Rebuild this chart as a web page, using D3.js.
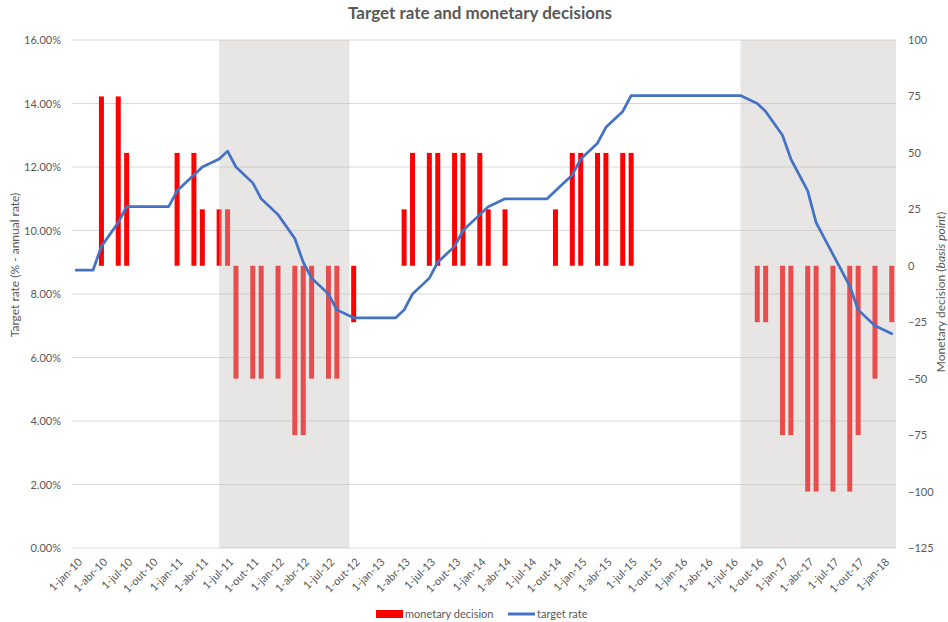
<!DOCTYPE html>
<html>
<head>
<meta charset="utf-8">
<script src="https://cdn.jsdelivr.net/npm/d3@7"></script>
<style>
  body { margin: 0; background: #fff; }
  svg { font-family: Lato, "Open Sans", sans-serif; }
</style>
</head>
<body>
<svg width="948" height="622"></svg>
<script>
// COPOM meetings (month of the meeting)
const meetings = [
  "2010-01","2010-03","2010-04","2010-06","2010-07","2010-09","2010-10","2010-12",
  "2011-01","2011-03","2011-04","2011-06","2011-07","2011-08","2011-10","2011-11",
  "2012-01","2012-03","2012-04","2012-05","2012-07","2012-08","2012-10","2012-11",
  "2013-01","2013-03","2013-04","2013-05","2013-07","2013-08","2013-10","2013-11",
  "2014-01","2014-02","2014-04","2014-05","2014-07","2014-09","2014-10","2014-12",
  "2015-01","2015-03","2015-04","2015-06","2015-07","2015-09","2015-10","2015-11",
  "2016-01","2016-03","2016-04","2016-06","2016-07","2016-08","2016-10","2016-11",
  "2017-01","2017-02","2017-04","2017-05","2017-07","2017-09","2017-10","2017-12",
  "2018-02"
];
// monetary decision, basis points
const decisions = [
  0,0,75,75,50,0,0,0,
  50,50,25,25,25,-50,-50,-50,
  -50,-75,-75,-50,-50,-50,-25,0,
  0,0,25,50,50,50,50,50,
  50,25,25,0,0,0,25,50,
  50,50,50,50,50,0,0,0,
  0,0,0,0,0,0,-25,-25,
  -75,-75,-100,-100,-100,-100,-75,-50,
  -25
];
// target rate, % a.a.
const rates = [
  8.75,8.75,9.50,10.25,10.75,10.75,10.75,10.75,
  11.25,11.75,12.00,12.25,12.50,12.00,11.50,11.00,
  10.50,9.75,9.00,8.50,8.00,7.50,7.25,7.25,
  7.25,7.25,7.50,8.00,8.50,9.00,9.50,10.00,
  10.50,10.75,11.00,11.00,11.00,11.00,11.25,11.75,
  12.25,12.75,13.25,13.75,14.25,14.25,14.25,14.25,
  14.25,14.25,14.25,14.25,14.25,14.25,14.00,13.75,
  13.00,12.25,11.25,10.25,9.25,8.25,7.50,7.00,
  6.75
];
// shaded periods (from month .. to month)
const shadeFrom = ["2011-06","2016-08"];
const shadeTo = ["2012-09","2018-02"];

const leftTicks = [0,2,4,6,8,10,12,14,16];
const rightTicks = [-125,-100,-75,-50,-25,0,25,50,75,100];
const monthNames = ["jan","fev","mar","abr","mai","jun","jul","ago","set","out","nov","dez"];

const svg = d3.select("svg");
const pLeft = 72, pRight = 896, pTop = 40, pBottom = 548;
const textColor = "#595959";

const parseM = d3.timeParse("%Y-%m");
const months = d3.timeMonth.range(new Date(2010,0,1), new Date(2018,2,1));
const key = d3.timeFormat("%Y-%m");

const x = d3.scaleBand().domain(months.map(key)).range([pLeft, pRight]).padding(0);
const bw = x.bandwidth();
const yL = d3.scaleLinear().domain([0,16]).range([pBottom, pTop]);
const yR = d3.scaleLinear().domain([-125,100]).range([pBottom, pTop]);

// gridlines
svg.append("g").selectAll("line").data(leftTicks).join("line")
  .attr("x1", pLeft).attr("x2", pRight)
  .attr("y1", d => yL(d)).attr("y2", d => yL(d))
  .attr("stroke", "#d9d9d9").attr("stroke-width", 1);

// bars
const barW = 5;
svg.append("g").selectAll("rect").data(meetings.map((m,i) => ({m: m, v: decisions[i]})).filter(d => d.v != 0))
  .join("rect")
  .attr("x", d => x(d.m) + bw/2 - barW/2)
  .attr("width", barW)
  .attr("y", d => yR(Math.max(0, d.v)))
  .attr("height", d => Math.abs(yR(d.v) - yR(0)))
  .attr("fill", "#ff0000");

// shaded periods, drawn over the bars
svg.append("g").selectAll("rect").data(shadeFrom.map((s,i) => [s, shadeTo[i]])).join("rect")
  .attr("x", d => x(d[0]) + bw/2)
  .attr("width", d => x(d[1]) + bw - x(d[0]) - bw/2)
  .attr("y", pTop).attr("height", pBottom - pTop)
  .attr("fill", "#c4c0bf").attr("opacity", 0.4);

// target rate line
const line = d3.line()
  .x((d,i) => x(meetings[i]) + bw/2)
  .y(d => yL(d));
svg.append("path").datum(rates)
  .attr("d", line)
  .attr("fill", "none")
  .attr("stroke", "#4472c4")
  .attr("stroke-width", 2.75)
  .attr("stroke-linejoin", "round")
  .attr("stroke-linecap", "round");

// left axis
const axL = svg.append("g").attr("transform", `translate(${pLeft - 8},0)`)
  .call(d3.axisLeft(yL).tickValues(leftTicks).tickSize(0).tickFormat(d => d.toFixed(2) + "%"));
axL.select(".domain").remove();
axL.selectAll("text").attr("fill", textColor).style("font-size", "11px").style("font-family", "Lato");

// right axis
const axR = svg.append("g").attr("transform", `translate(${pRight + 9},0)`)
  .call(d3.axisRight(yR).tickValues(rightTicks).tickSize(0));
axR.select(".domain").remove();
axR.selectAll("text").attr("fill", textColor).style("font-size", "11px").style("font-family", "Lato");

// x axis
const xTicks = months.filter(d => d.getMonth() % 3 == 0).map(key);
const axX = svg.append("g").attr("transform", `translate(0,${pBottom})`)
  .call(d3.axisBottom(x).tickValues(xTicks).tickSize(0)
    .tickFormat(d => { const dt = parseM(d); return "1-" + monthNames[dt.getMonth()] + "-" + String(dt.getFullYear()).slice(2); }));
axX.select(".domain").remove();
axX.selectAll("text")
  .attr("fill", textColor).style("font-size", "11px").style("font-family", "Lato")
  .attr("text-anchor", "end")
  .attr("dy", "0.35em")
  .attr("y", 0).attr("x", 0)
  .attr("transform", "translate(4,12) rotate(-45)");

// title
svg.append("text").attr("x", 480).attr("y", 19)
  .attr("text-anchor", "middle").attr("fill", textColor)
  .style("font-size", "17px").style("font-weight", "bold")
  .text("Target rate and monetary decisions");

// axis titles
svg.append("text").attr("transform", "translate(19,265) rotate(-90)")
  .attr("text-anchor", "middle").attr("fill", textColor).style("font-size", "12px")
  .text("Target rate (% - annual rate)");

const rt = svg.append("text").attr("transform", "translate(945,292) rotate(-90)")
  .attr("text-anchor", "middle").attr("fill", textColor).style("font-size", "12px");
rt.append("tspan").text("Monetary decision  (");
rt.append("tspan").style("font-style", "italic").text("basis point");
rt.append("tspan").text(")");

// legend
const lg = svg.append("g");
lg.append("rect").attr("x", 376).attr("y", 610).attr("width", 27).attr("height", 8).attr("fill", "#ff0000");
lg.append("text").attr("x", 405).attr("y", 618).attr("fill", textColor).style("font-size", "11px").text("monetary decision");
lg.append("line").attr("x1", 508).attr("x2", 535).attr("y1", 614).attr("y2", 614)
  .attr("stroke", "#4472c4").attr("stroke-width", 3);
lg.append("text").attr("x", 537).attr("y", 618).attr("fill", textColor).style("font-size", "11px").text("target rate");
</script>
</body>
</html>
